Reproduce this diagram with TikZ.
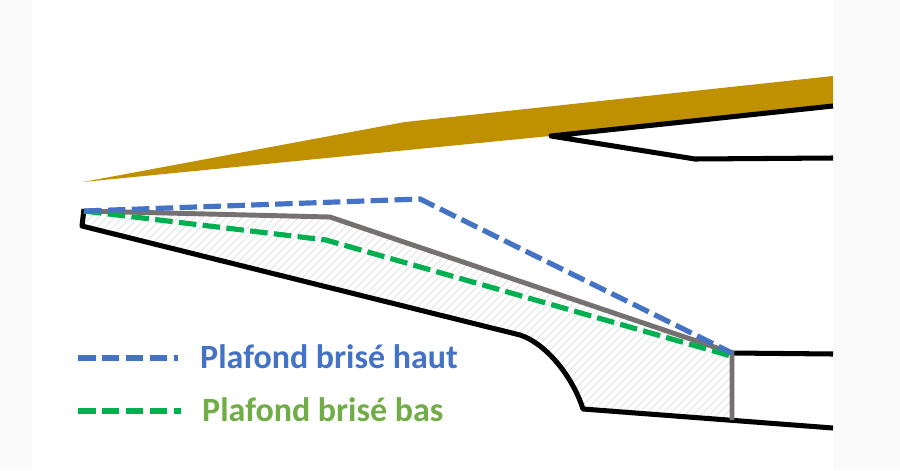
\documentclass[tikz,border=0pt]{standalone}
\usepackage{fontspec}
\setmainfont{Carlito}
\usetikzlibrary{positioning}
\definecolor{brun}{HTML}{BF9000}
\definecolor{bleu}{HTML}{4472C4}
\definecolor{vert}{HTML}{00B050}
\definecolor{vertTexte}{HTML}{70AD47}
\definecolor{gris}{HTML}{767171}
\definecolor{marge}{HTML}{FAFAFA}
\begin{document}
\begin{tikzpicture}[
    x=0.03cm, y=-0.03cm,
    contour/.style={draw=black, line width=4.3pt, line join=round},
    plafond/.style={draw=gris, line width=4.2pt, line join=miter},
    pointille/.style={line width=4.4pt, dash pattern=on 15pt off 5.4pt},
    legende/.style={font=\fontsize{29pt}{32pt}\selectfont\bfseries, anchor=west, inner sep=0pt}
]
\useasboundingbox (0,0) rectangle (900,470);
\fill[marge] (0,0) rectangle (900,470);
\fill[white] (32,0) rectangle (833,470);

% Points
\coordinate (Nez) at (84,211);
\coordinate (NezBas) at (82,226);
\coordinate (Courbe) at (520,335);
\coordinate (Pied) at (583,409);
\coordinate (SortieHaut) at (732,353);
\coordinate (SortieBas) at (732,420);

% Hachures
\begin{scope}
\clip (Nez) -- (330,217) -- (SortieHaut) -- (SortieBas) -- (Pied)
    .. controls (572,375) and (545,343) .. (Courbe) -- (NezBas) -- cycle;
\foreach \x in {100,108,...,1180} {
    \draw[black!13, line width=0.6pt] (\x,200) -- (\x-280,480);
}
\end{scope}

% Toit
\fill[brun] (83,182) -- (405,122) -- (833,76) -- (833,104) -- (550,136) -- cycle;
\draw[contour] (833,106) -- (551,136) -- (695,159) -- (833,158);

% Contour bas
\draw[contour] (84,209) -- (NezBas) -- (Courbe)
    .. controls (545,343) and (572,375) .. (Pied) -- (833,428);
\draw[contour] (SortieHaut) -- (833,354);

% Plafond
\draw[plafond] (Nez) -- (330,217) -- (SortieHaut) -- (SortieBas);
\draw[pointille, draw=vert] (Nez) -- (326,240) -- (731,356);
\draw[pointille, draw=bleu] (Nez) -- (420,199) -- (SortieHaut);

% Legende
\coordinate (LegHautA) at (78,358);
\coordinate (LegHautB) at (178,358);
\coordinate (LegBasA) at (78,411);
\coordinate (LegBasB) at (181,411);
\draw[pointille, draw=bleu] (LegHautA) -- (LegHautB);
\draw[pointille, draw=vert] (LegBasA) -- (LegBasB);
\node (TexteHaut) [legende, text=bleu] at (200,357) {Plafond brisé haut};
\node (TexteBas) [legende, text=vertTexte] at (202,410) {Plafond brisé bas};
\end{tikzpicture}
\end{document}
